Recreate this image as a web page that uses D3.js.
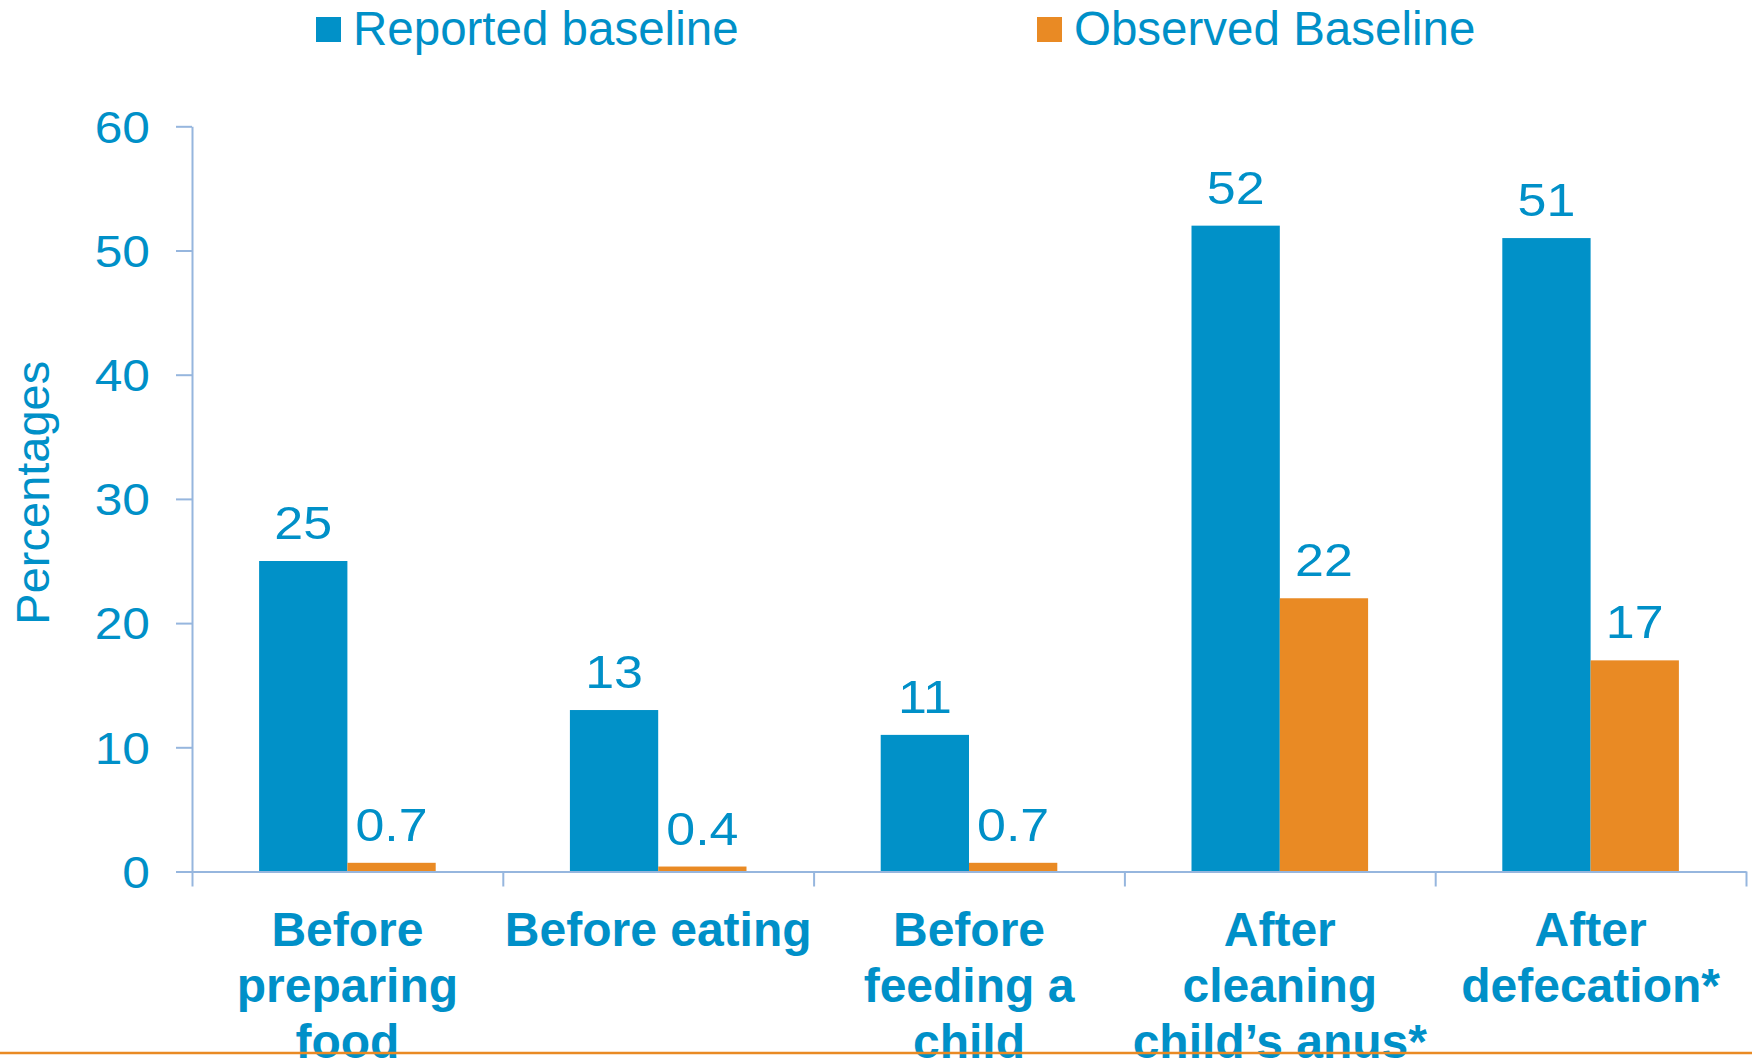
<!DOCTYPE html>
<html>
<head>
<meta charset="utf-8">
<script src="https://cdn.jsdelivr.net/npm/d3@7"></script>
<style>
  html, body { margin: 0; padding: 0; background: #fff; }
  svg { display: block; font-family: "Liberation Sans", Arial, sans-serif; }
</style>
</head>
<body>
<svg id="chart" width="1752" height="1058"></svg>
<script>
// ---- data ----
const categories = [
  ["Before", "preparing", "food"],
  ["Before eating"],
  ["Before", "feeding a", "child"],
  ["After", "cleaning", "child\u2019s anus*"],
  ["After", "defecation*"]
];
const seriesNames = ["Reported baseline", "Observed Baseline"];
const reported = [25, 13, 11, 52, 51];
const observed = [0.7, 0.4, 0.7, 22, 17];
const reportedLabels = ["25", "13", "11", "52", "51"];
const observedLabels = ["0.7", "0.4", "0.7", "22", "17"];
const yTicks = [0, 10, 20, 30, 40, 50, 60];

// ---- styles ----
const BLUE = "#0191C8";
const ORANGE = "#E98A24";
const TEXT = "#0090C8";
const AXIS = "#96B6DE";
const STRETCH = 1.13;

const svg = d3.select("#chart");

const plotLeft = 192, plotRight = 1746, plotTop = 126.3, plotBottom = 871.5;
const catIdx = categories.map((d, i) => i);

const x0 = d3.scaleBand().domain(catIdx).range([plotLeft, plotRight]).paddingInner(0).paddingOuter(0);
const x1 = d3.scaleBand().domain([0, 1]).range([0, x0.bandwidth()]).paddingInner(0).paddingOuter(0.76);
const y = d3.scaleLinear().domain([0, 60]).range([plotBottom, plotTop]);

const series = [reported, observed];
const seriesLabels = [reportedLabels, observedLabels];
const colors = [BLUE, ORANGE];

// bars
series.forEach((vals, s) => {
  svg.append("g").selectAll("rect").data(vals).join("rect")
    .attr("x", (d, i) => x0(i) + x1(s))
    .attr("width", x1.bandwidth())
    .attr("y", d => y(d))
    .attr("height", d => y(0) - y(d))
    .attr("fill", colors[s]);
  svg.append("g").selectAll("text").data(vals).join("text")
    .attr("transform", (d, i) =>
      `translate(${x0(i) + x1(s) + x1.bandwidth() / 2},${y(d) - 22}) scale(${STRETCH},1)`)
    .attr("text-anchor", "middle")
    .attr("font-size", 46)
    .attr("fill", TEXT)
    .text((d, i) => seriesLabels[s][i]);
});

// y axis
const yAxis = d3.axisLeft(y).tickValues(yTicks).tickSize(16).tickPadding(26).tickSizeOuter(0);
const gy = svg.append("g").attr("transform", `translate(${plotLeft},0)`).call(yAxis);
gy.select(".domain").attr("stroke", AXIS).attr("stroke-width", 2);
gy.selectAll(".tick line").attr("stroke", AXIS).attr("stroke-width", 2);
gy.selectAll(".tick text")
  .attr("x", 0)
  .attr("transform", `translate(-42,0) scale(${STRETCH},1)`)
  .attr("fill", TEXT).attr("font-size", 44)
  .attr("font-family", "'Liberation Sans', Arial, sans-serif").attr("dy", "0.36em");

// x axis
const xLine = d3.scaleLinear().domain([0, categories.length]).range([plotLeft, plotRight]);
const xAxis = d3.axisBottom(xLine).tickValues(d3.range(0, categories.length + 1)).tickSize(15).tickFormat("").tickSizeOuter(0);
const gx = svg.append("g").attr("transform", `translate(0,${plotBottom})`).call(xAxis);
gx.select(".domain").attr("stroke", AXIS).attr("stroke-width", 2);
gx.selectAll(".tick line").attr("stroke", AXIS).attr("stroke-width", 2);

// category labels
categories.forEach((lines, i) => {
  const cx = x0(i) + x0.bandwidth() / 2;
  const t = svg.append("text")
    .attr("x", cx)
    .attr("y", 946)
    .attr("text-anchor", "middle")
    .attr("font-size", 48)
    .attr("font-weight", "bold")
    .attr("fill", TEXT);
  lines.forEach((ln, k) => {
    t.append("tspan").attr("x", cx).attr("dy", k === 0 ? 0 : 56).text(ln);
  });
});

// y axis title
svg.append("text")
  .attr("transform", `translate(49,${y(30.5)}) rotate(-90)`)
  .attr("text-anchor", "middle")
  .attr("font-size", 47)
  .attr("fill", TEXT)
  .text("Percentages");

// legend
const legendX = [316, 1037];
seriesNames.forEach((name, s) => {
  svg.append("rect").attr("x", legendX[s]).attr("y", 17).attr("width", 25).attr("height", 25).attr("fill", colors[s]);
  svg.append("text").attr("x", legendX[s] + 37).attr("y", 45)
    .attr("font-size", 47.5).attr("fill", TEXT).text(name);
});

// bottom rule
svg.append("line").attr("x1", 0).attr("x2", 1752).attr("y1", 1053).attr("y2", 1053)
  .attr("stroke", ORANGE).attr("stroke-width", 2.5);
</script>
</body>
</html>
